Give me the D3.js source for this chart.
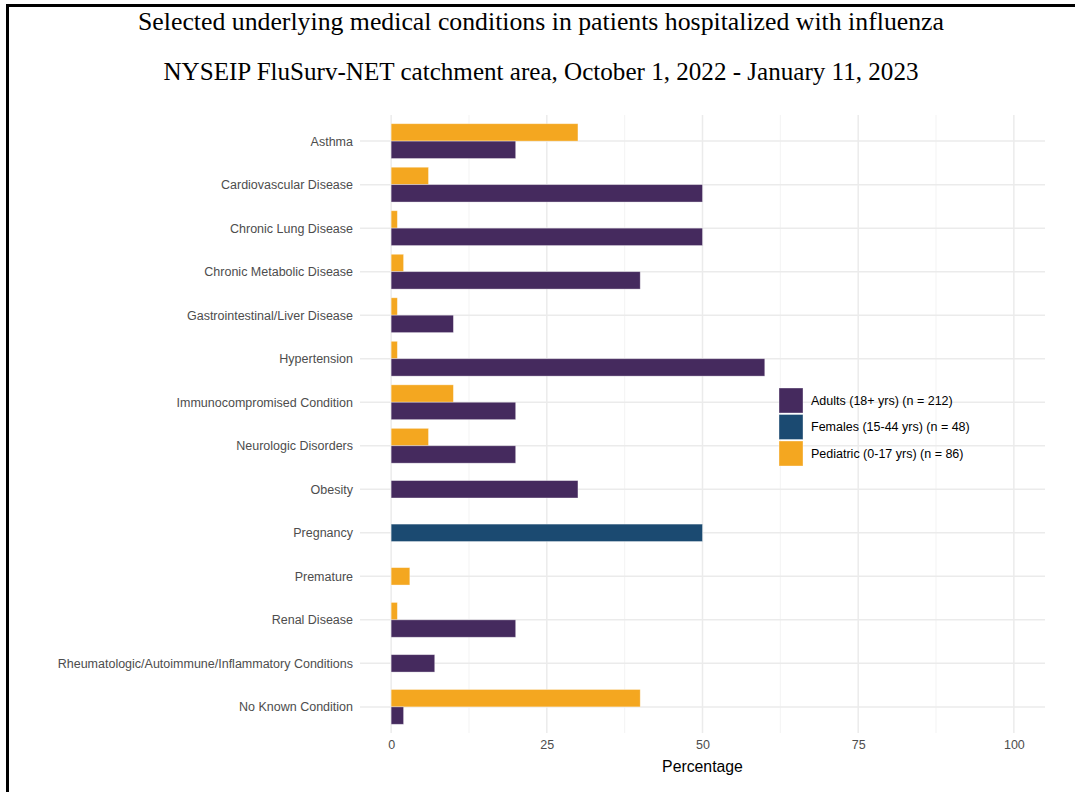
<!DOCTYPE html>
<html>
<head>
<meta charset="utf-8">
<script src="https://cdn.jsdelivr.net/npm/d3@7"></script>
<style>
  body { margin: 0; background: #fff; }
  svg { display: block; }
</style>
</head>
<body>
<svg width="1075" height="792"></svg>
<script>
// conditions, top to bottom
var conditions = ["Asthma", "Cardiovascular Disease", "Chronic Lung Disease", "Chronic Metabolic Disease",
  "Gastrointestinal/Liver Disease", "Hypertension", "Immunocompromised Condition", "Neurologic Disorders",
  "Obesity", "Pregnancy", "Premature", "Renal Disease",
  "Rheumatologic/Autoimmune/Inflammatory Conditions", "No Known Condition"];

// null = group not shown for that condition
var pediatric = [30, 6, 1, 2, 1, 1, 10, 6, null, null, 3, 1, null, 40];
var adults    = [20, 50, 50, 40, 10, 60, 20, 20, 30, null, null, 20, 7, 2];
var females   = [null, null, null, null, null, null, null, null, null, 50, null, null, null, null];

var groups = ["Adults (18+ yrs) (n = 212)", "Females (15-44 yrs) (n = 48)", "Pediatric (0-17 yrs) (n = 86)"];
var groupColors = ["#452a5e", "#1b4a71", "#f4a720"];
var xTicks = [0, 25, 50, 75, 100];

var canvas = d3.select("svg");
var sans = "'Liberation Sans', Arial, sans-serif";

// frame around the picture (left + top only)
canvas.append("path")
  .attr("d", "M7.5,792 V5.5 H1075")
  .attr("fill", "none")
  .attr("stroke", "#000")
  .attr("stroke-width", 3);

canvas.append("text")
  .attr("x", 541).attr("y", 30)
  .attr("text-anchor", "middle")
  .attr("textLength", 806)
  .attr("lengthAdjust", "spacingAndGlyphs")
  .style("font-family", "'Liberation Serif', serif")
  .style("font-size", "26px")
  .text("Selected underlying medical conditions in patients hospitalized with influenza");

canvas.append("text")
  .attr("x", 541).attr("y", 80)
  .attr("text-anchor", "middle")
  .attr("textLength", 755)
  .attr("lengthAdjust", "spacingAndGlyphs")
  .style("font-family", "'Liberation Serif', serif")
  .style("font-size", "26px")
  .text("NYSEIP FluSurv-NET catchment area, October 1, 2022 - January 11, 2023");

var x = d3.scaleLinear().domain([-5, 105]).range([360, 1045]);
var y = d3.scalePoint().domain(conditions).range([115, 733]).padding(0.6);
var bh = y.step() * 0.4;

var grid = canvas.append("g");
// minor vertical lines
grid.selectAll(".minor")
  .data([12.5, 37.5, 62.5, 87.5])
  .enter().append("line")
  .attr("x1", d => x(d)).attr("x2", d => x(d))
  .attr("y1", 115).attr("y2", 733)
  .attr("stroke", "#f3f3f3").attr("stroke-width", 1);
grid.selectAll(".major")
  .data(xTicks)
  .enter().append("line")
  .attr("x1", d => x(d)).attr("x2", d => x(d))
  .attr("y1", 115).attr("y2", 733)
  .attr("stroke", "#ebebeb").attr("stroke-width", 1.5);
grid.selectAll(".hz")
  .data(conditions)
  .enter().append("line")
  .attr("x1", 360).attr("x2", 1045)
  .attr("y1", d => y(d)).attr("y2", d => y(d))
  .attr("stroke", "#ebebeb").attr("stroke-width", 1.5);

// build bar rows, orange on top, purple below, single bars centred
var bars = [];
conditions.forEach(function(c, i) {
  var present = [];
  if (pediatric[i] != null) present.push({g: 2, v: pediatric[i]});
  if (females[i] != null) present.push({g: 1, v: females[i]});
  if (adults[i] != null) present.push({g: 0, v: adults[i]});
  var start = y(c) - bh * present.length / 2;
  present.forEach(function(p, k) {
    bars.push({c: c, g: p.g, v: p.v, y0: start + k * bh});
  });
});

canvas.append("g").selectAll("rect")
  .data(bars)
  .enter().append("rect")
  .attr("x", x(0))
  .attr("y", d => d.y0)
  .attr("width", d => x(d.v) - x(0))
  .attr("height", bh)
  .attr("fill", d => groupColors[d.g])
  .attr("stroke", "#ffffff")
  .attr("stroke-opacity", 0.45)
  .attr("stroke-width", 0.8);

// y labels
var yAxis = canvas.append("g")
  .attr("transform", "translate(353,0)")
  .call(d3.axisLeft(y).tickSize(0).tickPadding(0));
yAxis.select(".domain").remove();
yAxis.selectAll("text")
  .attr("fill", "#4d4d4d")
  .style("font-family", sans)
  .style("font-size", "12.5px");

var xAxis = canvas.append("g")
  .attr("transform", "translate(0,740)")
  .call(d3.axisBottom(x).tickValues(xTicks).tickSize(0).tickPadding(0));
xAxis.select(".domain").remove();
xAxis.selectAll("text")
  .attr("fill", "#4d4d4d")
  .style("font-family", sans)
  .style("font-size", "12.5px");

canvas.append("text")
  .attr("x", x(50)).attr("y", 772)
  .attr("text-anchor", "middle")
  .style("font-family", sans)
  .style("font-size", "15.8px")
  .text("Percentage");

// legend
var legend = canvas.append("g").attr("transform", "translate(779,388)");
var item = legend.selectAll("g")
  .data(groups)
  .enter().append("g")
  .attr("transform", (d, i) => "translate(0," + i * 26.5 + ")");
item.append("rect")
  .attr("width", 24).attr("height", 25)
  .attr("fill", (d, i) => groupColors[i])
  .attr("stroke", "#fff").attr("stroke-opacity", 0.45).attr("stroke-width", 0.8);
item.append("text")
  .attr("x", 32).attr("y", 12.5)
  .attr("dy", "0.35em")
  .style("font-family", sans)
  .style("font-size", "12.5px")
  .text(d => d);
</script>
</body>
</html>
